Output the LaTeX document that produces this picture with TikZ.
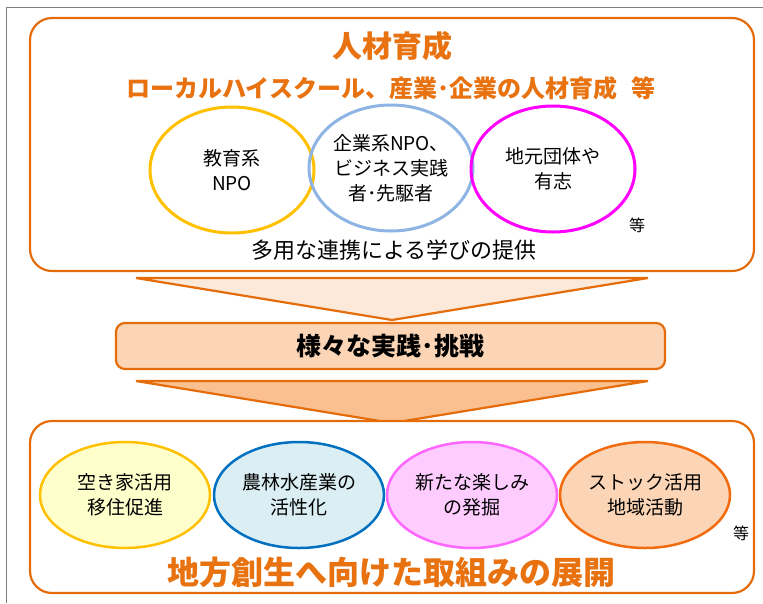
\documentclass[tikz,border=0pt]{standalone}
\usepackage{fontspec}
\setmainfont{Noto Sans CJK JP}
\usetikzlibrary{shapes.geometric}
\definecolor{org}{HTML}{E46C0A}
\definecolor{ttl}{HTML}{E8720F}
\definecolor{ylw}{HTML}{FFC000}
\definecolor{lblue}{HTML}{8EB4E3}
\definecolor{mgt}{HTML}{FF00FF}
\definecolor{peach1}{HTML}{FDE9D9}
\definecolor{peach2}{HTML}{FBD5B5}
\definecolor{peach3}{HTML}{FAC090}
\definecolor{yfill}{HTML}{FFFFCC}
\definecolor{bfill}{HTML}{DAEEF3}
\definecolor{bline}{HTML}{0070C0}
\definecolor{pfill}{HTML}{FFCCFF}
\definecolor{pline}{HTML}{FF66FF}
\definecolor{ofill}{HTML}{FBD5B5}
\definecolor{oline}{HTML}{F26B0F}
\begin{document}
\begin{tikzpicture}[x=1pt,y=-1pt,
  panel/.style={draw=org,line width=2.2pt,rounded corners=22pt},
  topell/.style={ellipse,line width=3pt,minimum width=164pt,minimum height=126pt,inner sep=0pt,align=center,font=\fontsize{19}{25}\selectfont},
  botell/.style={ellipse,line width=2.5pt,minimum width=170pt,minimum height=106pt,inner sep=0pt,align=center,font=\fontsize{19}{25}\selectfont},
  chev/.style={draw=org,line width=2.2pt,line join=miter},
  etc/.style={font=\fontsize{16}{18}\selectfont}]
\useasboundingbox (0,0) rectangle (763,603);
% outer gray frame
\draw[gray,line width=0.8pt] (763,7) -- (6,7) -- (6,603);
% top panel
\draw[panel,fill=white] (30,18) rectangle (754,271);
\node[text=ttl,font=\fontsize{30}{32}\selectfont\bfseries] (t1) at (392,46) {人材育成};
\node[text=ttl,font=\fontsize{24}{26}\selectfont\bfseries] (t2) at (391,88) {ローカルハイスクール、産業･企業の人材育成\hspace{0.6em}等};
\node[topell,draw=ylw] (c1) at (232,170) {教育系\\NPO};
\node[topell,draw=lblue] (c2) at (391,168) {企業系NPO、\\ビジネス実践\\者･先駆者};
\node[topell,draw=mgt] (c3) at (553,169) {地元団体や\\有志};
\node[etc] (e1) at (637,225) {等};
\node[font=\fontsize{22}{24}\selectfont] (t3) at (394,250) {多用な連携による学びの提供};
% arrow 1
\draw[chev,fill=peach1] (136,278) -- (648,278) -- (392,320) -- cycle;
% middle box
\node[draw=org,line width=2.2pt,rounded corners=9pt,fill=peach2,minimum width=549pt,minimum height=46pt,font=\fontsize{25}{27}\selectfont\bfseries] (mid) at (390.5,346) {様々な実践･挑戦};
% arrow 2
\draw[chev,fill=peach3] (136,381) -- (648,381) -- (392,423) -- cycle;
% bottom panel
\draw[panel,fill=white] (30,421) rectangle (754,593);
\node[botell,draw=ylw,fill=yfill] (b1) at (125,495) {空き家活用\\移住促進};
\node[botell,draw=bline,fill=bfill] (b2) at (299,495) {農林水産業の\\活性化};
\node[botell,draw=pline,fill=pfill] (b3) at (472,495) {新たな楽しみ\\の発掘};
\node[botell,draw=oline,fill=ofill] (b4) at (645,495) {ストック活用\\地域活動};
\node[etc] (e2) at (741,533) {等};
\node[text=ttl,font=\fontsize{32}{34}\selectfont\bfseries] (t4) at (391,572) {地方創生へ向けた取組みの展開};
\end{tikzpicture}
\end{document}
